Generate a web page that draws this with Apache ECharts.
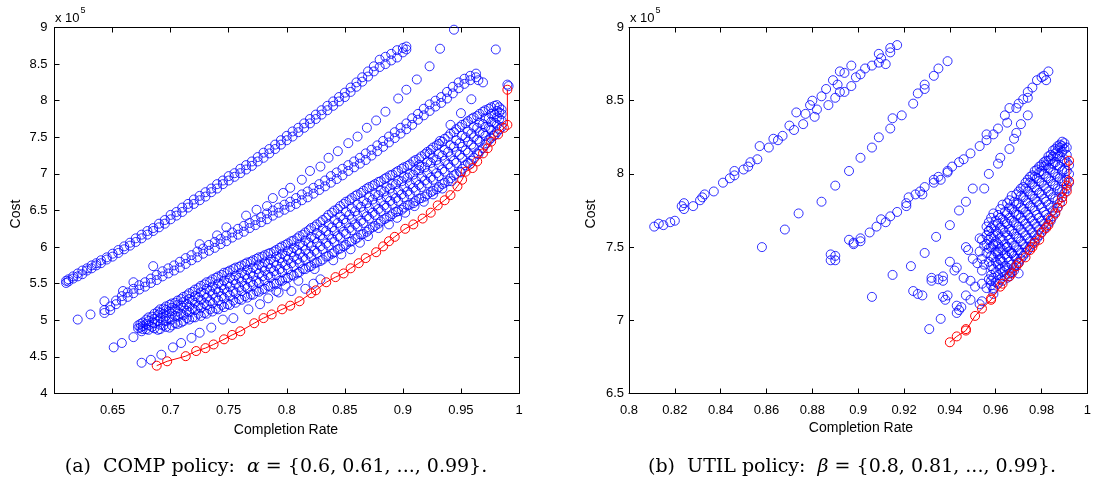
<!DOCTYPE html>
<html><head><meta charset="utf-8">
<script src="https://cdn.jsdelivr.net/npm/echarts/dist/echarts.min.js"></script>
<style>html,body{margin:0;padding:0;background:#fff}#c{width:1094px;height:478px}</style>
</head><body><div id="c"></div>
<script>
// ---------- (a) COMP policy : Completion Rate vs Cost (x 10^5) ----------
const compBand1 = [
[0.610,5.51,5.54],[0.612,5.53,5.56],[0.616,5.57,5.60],[0.620,5.60,5.64],[0.624,5.63,5.68],[0.628,5.68,5.71],
[0.632,5.71,5.75],[0.636,5.75,5.78],[0.640,5.78,5.82],[0.645,5.83,5.86],[0.650,5.87,5.91],[0.655,5.92,5.96],
[0.660,5.97,6.01],[0.665,6.02,6.06],[0.670,6.07,6.12],[0.675,6.12,6.17],[0.680,6.17,6.22],[0.685,6.22,6.26],
[0.690,6.27,6.32],[0.695,6.32,6.37],[0.700,6.38,6.44],[0.705,6.43,6.48],[0.710,6.48,6.54],[0.715,6.54,6.59],
[0.720,6.59,6.65],[0.725,6.64,6.70],[0.730,6.69,6.75],[0.735,6.75,6.80],[0.740,6.80,6.86],[0.745,6.86,6.91],
[0.750,6.91,6.97],[0.755,6.96,7.01],[0.760,7.01,7.07],[0.765,7.06,7.12],[0.770,7.11,7.17],[0.775,7.17,7.23],
[0.780,7.22,7.29],[0.785,7.28,7.34],[0.790,7.34,7.40],[0.795,7.40,7.46],[0.800,7.46,7.52],[0.805,7.51,7.58],
[0.810,7.57,7.63],[0.815,7.63,7.69],[0.820,7.69,7.75],[0.825,7.75,7.81],[0.830,7.81,7.87],[0.835,7.87,7.93],
[0.840,7.93,7.99],[0.845,7.99,8.05],[0.850,8.05,8.11],[0.855,8.12,8.18],[0.860,8.19,8.25],[0.865,8.26,8.32],
[0.870,8.33,8.40],[0.875,8.40,8.47],[0.880,8.46,8.56],[0.885,8.50,8.60],[0.890,8.55,8.64],[0.895,8.59,8.69],
[0.900,8.66,8.72],[0.903,8.70,8.74]
];
const compBand2 = [
[0.643,5.10,5.14],[0.648,5.14,5.19],[0.653,5.22,5.27],[0.658,5.27,5.33],[0.663,5.32,5.38],[0.668,5.37,5.43],
[0.673,5.42,5.48],[0.678,5.46,5.52],[0.683,5.51,5.57],[0.688,5.55,5.62],[0.693,5.60,5.67],[0.698,5.64,5.71],
[0.703,5.68,5.75],[0.708,5.72,5.80],[0.713,5.77,5.85],[0.718,5.82,5.89],[0.723,5.86,5.94],[0.728,5.91,5.98],
[0.733,5.95,6.03],[0.738,5.99,6.07],[0.743,6.04,6.11],[0.748,6.08,6.16],[0.753,6.13,6.20],[0.758,6.17,6.25],
[0.763,6.21,6.29],[0.768,6.26,6.33],[0.773,6.30,6.37],[0.778,6.34,6.41],[0.783,6.38,6.46],[0.788,6.43,6.50],
[0.793,6.47,6.54],[0.798,6.51,6.58],[0.803,6.55,6.62],[0.808,6.59,6.67],[0.813,6.64,6.72],[0.818,6.68,6.76],
[0.823,6.73,6.81],[0.828,6.78,6.86],[0.833,6.83,6.91],[0.838,6.88,6.97],[0.843,6.93,7.02],[0.848,6.98,7.07],
[0.853,7.04,7.12],[0.858,7.09,7.17],[0.863,7.14,7.22],[0.868,7.19,7.28],[0.873,7.25,7.33],[0.878,7.31,7.39],
[0.883,7.37,7.45],[0.888,7.43,7.51],[0.893,7.49,7.57],[0.898,7.55,7.63],[0.903,7.61,7.69],[0.908,7.67,7.76],
[0.913,7.74,7.82],[0.918,7.80,7.89],[0.923,7.86,7.95],[0.928,7.92,8.00],[0.933,7.97,8.05],[0.938,8.03,8.12],
[0.943,8.10,8.19],[0.948,8.17,8.25],[0.953,8.23,8.30],[0.958,8.28,8.34],[0.963,8.32,8.37]
];
const compSparseUpper = [
[0.620,5.01],[0.631,5.08],[0.643,5.26],[0.659,5.40],[0.668,5.52],[0.685,5.74],[0.725,6.04],[0.740,6.16],
[0.748,6.27],[0.765,6.43],[0.774,6.51],[0.783,6.56],[0.788,6.67],[0.797,6.74],[0.803,6.81],[0.813,6.92],
[0.820,7.04],[0.829,7.10],[0.836,7.22],[0.844,7.31],[0.853,7.42],[0.861,7.51],[0.869,7.63],[0.877,7.73],
[0.885,7.85],[0.896,8.03],[0.903,8.15],[0.912,8.29],[0.923,8.47],[0.932,8.71],[0.944,8.97],[0.980,8.70]
];
const compSparseMid = [
[0.914,7.12],[0.923,7.28],[0.932,7.45],[0.941,7.67],[0.950,7.83],[0.959,8.02],[0.965,8.28],[0.969,8.25],
[0.990,8.22],[0.991,8.20]
];
const compBand3 = [
[0.672,4.89,4.93],[0.676,4.88,4.92,4.97],[0.681,4.87,4.93,4.99,5.04],[0.686,4.89,4.96,5.02,5.09],
[0.691,4.88,4.94,5.03,5.10,5.15],[0.696,4.91,4.99,5.06,5.14,5.19],[0.701,4.93,5.01,5.09,5.17,5.23],
[0.706,4.95,5.05,5.12,5.21,5.27],[0.711,4.99,5.07,5.17,5.25,5.32],[0.716,5.01,5.11,5.19,5.29,5.37],
[0.721,5.04,5.14,5.24,5.33,5.42],[0.726,5.06,5.17,5.28,5.38,5.47],[0.731,5.09,5.21,5.31,5.43,5.52],
[0.736,5.12,5.23,5.36,5.46,5.56],[0.741,5.15,5.27,5.39,5.50,5.60],[0.746,5.18,5.30,5.43,5.54,5.65],
[0.751,5.21,5.34,5.46,5.58,5.68],[0.756,5.24,5.37,5.50,5.61,5.72],[0.761,5.28,5.40,5.53,5.65,5.75],
[0.766,5.31,5.44,5.57,5.69,5.79],[0.771,5.35,5.48,5.60,5.72,5.82],[0.776,5.39,5.51,5.64,5.76,5.86],
[0.781,5.43,5.55,5.68,5.79,5.89],[0.786,5.46,5.59,5.71,5.83,5.92],[0.791,5.50,5.62,5.75,5.87,5.96],
[0.796,5.54,5.66,5.79,5.91,6.01],[0.801,5.58,5.70,5.83,5.95,6.05],[0.806,5.61,5.74,5.87,5.99,6.09],
[0.811,5.66,5.78,5.91,6.04,6.15],[0.816,5.70,5.83,5.96,6.09,6.20],[0.821,5.74,5.87,6.01,6.14,6.26],
[0.826,5.79,5.92,6.06,6.19,6.31],[0.831,5.83,5.97,6.11,6.25,6.37],[0.836,5.88,6.02,6.17,6.31,6.44],
[0.841,5.93,6.07,6.22,6.37,6.50],[0.846,5.98,6.13,6.28,6.42,6.56],[0.851,6.03,6.18,6.33,6.48,6.62],
[0.856,6.08,6.23,6.38,6.53,6.67],[0.861,6.13,6.28,6.43,6.58,6.72],[0.866,6.18,6.33,6.48,6.63,6.77],
[0.871,6.24,6.39,6.53,6.68,6.82],[0.876,6.29,6.44,6.58,6.72,6.86],[0.881,6.35,6.49,6.63,6.77,6.90],
[0.886,6.40,6.54,6.68,6.82,6.95],[0.891,6.45,6.59,6.73,6.86,6.99],[0.896,6.49,6.63,6.77,6.91,7.04],
[0.901,6.54,6.68,6.82,6.96,7.09],[0.906,6.58,6.72,6.86,7.00,7.13],[0.911,6.63,6.77,6.91,7.05,7.19],
[0.916,6.67,6.82,6.96,7.10,7.24],[0.921,6.72,6.87,7.01,7.16,7.30],[0.926,6.77,6.92,7.07,7.22,7.36],
[0.931,6.82,6.97,7.12,7.27,7.41],[0.936,6.88,7.03,7.18,7.33,7.48],[0.941,6.94,7.09,7.24,7.39,7.55],
[0.946,7.00,7.15,7.30,7.46,7.61],[0.951,7.07,7.22,7.37,7.52,7.67],[0.956,7.15,7.29,7.44,7.58,7.72],
[0.961,7.22,7.36,7.50,7.64,7.77],[0.966,7.31,7.44,7.57,7.70,7.82],[0.971,7.40,7.52,7.64,7.76,7.87],
[0.976,7.49,7.60,7.71,7.82,7.91],[0.981,7.57,7.67,7.77,7.86,7.94],[0.985,7.64,7.73,7.82,7.88]
];
const compBand3b = [
[0.674,4.90,4.95],[0.679,4.88,4.95,5.01],[0.684,4.91,4.97,5.05],[0.689,4.87,4.99,5.07,5.12],
[0.694,4.93,5.00,5.09,5.16],[0.699,4.90,5.03,5.12,5.21],[0.704,4.96,5.06,5.15,5.24],[0.709,4.97,5.09,5.20,5.29],
[0.714,5.03,5.13,5.22,5.34],[0.719,5.04,5.16,5.27,5.39],[0.724,5.09,5.20,5.31,5.44],[0.729,5.10,5.23,5.36,5.49],
[0.734,5.15,5.26,5.40,5.53],[0.739,5.16,5.31,5.43,5.58],[0.744,5.21,5.33,5.48,5.62],[0.749,5.22,5.38,5.51,5.66],
[0.754,5.27,5.40,5.55,5.70],[0.759,5.29,5.45,5.58,5.73],[0.764,5.33,5.47,5.62,5.77],[0.769,5.35,5.52,5.65,5.80],
[0.774,5.40,5.54,5.70,5.84],[0.779,5.42,5.60,5.73,5.87],[0.784,5.47,5.62,5.77,5.91],[0.789,5.50,5.67,5.80,5.94],
[0.794,5.54,5.70,5.85,5.99],[0.799,5.57,5.75,5.88,6.03],[0.804,5.62,5.78,5.93,6.08],[0.809,5.64,5.83,5.96,6.12],
[0.814,5.70,5.86,6.02,6.17],[0.819,5.73,5.91,6.06,6.23],[0.824,5.78,5.95,6.12,6.28],[0.829,5.81,6.01,6.16,6.34],
[0.834,5.87,6.05,6.22,6.40],[0.839,5.91,6.11,6.27,6.47],[0.844,5.97,6.15,6.33,6.52],[0.849,6.01,6.21,6.38,6.59],
[0.854,6.07,6.26,6.44,6.64],[0.859,6.11,6.31,6.49,6.70],[0.864,6.17,6.36,6.55,6.74],[0.869,6.21,6.42,6.60,6.80],
[0.874,6.27,6.47,6.65,6.84],[0.879,6.32,6.52,6.71,6.89],[0.884,6.38,6.57,6.76,6.93],[0.889,6.42,6.63,6.80,6.98],
[0.894,6.48,6.67,6.86,7.02],[0.899,6.51,6.72,6.90,7.07],[0.904,6.57,6.76,6.95,7.11],[0.909,6.60,6.81,6.99,7.17],
[0.914,6.66,6.85,7.05,7.21],[0.919,6.69,6.91,7.09,7.27],[0.924,6.75,6.95,7.15,7.33],[0.929,6.79,7.01,7.19,7.39],
[0.934,6.86,7.06,7.25,7.44],[0.939,6.90,7.13,7.30,7.51],[0.944,6.98,7.18,7.37,7.57],[0.949,7.03,7.26,7.42,7.64],
[0.954,7.12,7.32,7.50,7.69],[0.959,7.18,7.40,7.55,7.75],[0.964,7.28,7.47,7.63,7.79],[0.969,7.35,7.56,7.68,7.85],
[0.974,7.46,7.63,7.76,7.89],[0.979,7.53,7.70,7.81,7.93],[0.983,7.61,7.75,7.84,7.91]
];
const compSparseLower = [
[0.651,4.63],[0.658,4.69],[0.668,4.77],[0.675,4.85],[0.675,4.42],[0.683,4.46],[0.692,4.53],[0.702,4.63],
[0.709,4.69],[0.718,4.76],[0.725,4.83],[0.735,4.90],[0.745,5.01],[0.754,5.03],[0.767,5.15],[0.777,5.22],
[0.784,5.30],[0.791,5.40],[0.793,5.38],[0.799,5.47],[0.804,5.40],[0.810,5.54],[0.816,5.43],[0.823,5.50],
[0.824,5.70],[0.829,5.56],[0.840,5.82],[0.847,5.90],[0.855,5.97],[0.863,6.06],[0.870,6.15],[0.879,6.26],
[0.888,6.31],[0.895,6.40],[0.902,6.47],[0.910,6.56],[0.918,6.62],[0.926,6.72],[0.934,6.80],[0.942,6.90],
[0.950,7.02],[0.958,7.14],[0.965,7.27],[0.972,7.42],[0.978,7.52]
];
const compFront = [
[0.688,4.38],[0.697,4.44],[0.713,4.51],[0.722,4.58],[0.730,4.62],[0.737,4.67],[0.746,4.74],[0.753,4.80],
[0.760,4.85],[0.772,4.96],[0.780,5.03],[0.787,5.08],[0.796,5.15],[0.803,5.20],[0.811,5.26],[0.821,5.37],
[0.825,5.41],[0.834,5.52],[0.842,5.59],[0.849,5.64],[0.855,5.71],[0.862,5.78],[0.868,5.85],[0.877,5.93],
[0.883,6.01],[0.888,6.08],[0.893,6.14],[0.902,6.25],[0.909,6.31],[0.917,6.39],[0.924,6.47],[0.930,6.57],
[0.936,6.64],[0.941,6.71],[0.947,6.83],[0.951,6.92],[0.954,7.03],[0.960,7.08],[0.964,7.17],[0.969,7.28],
[0.973,7.35],[0.976,7.44],[0.982,7.54],[0.987,7.63],[0.990,7.67],[0.990,8.15]
];

// ---------- (b) UTIL policy ----------
const utilBandA = [
[0.811,7.64],[0.813,7.66],[0.815,7.65],[0.818,7.67],[0.820,7.68],[0.823,7.78],[0.824,7.76],[0.824,7.80],
[0.828,7.78],[0.831,7.82],[0.832,7.84],[0.833,7.86],[0.837,7.88],[0.841,7.94],[0.844,7.97],[0.846,8.02],
[0.846,7.99],[0.850,8.03],[0.852,8.05],[0.853,8.08],[0.856,8.10],[0.857,8.19],[0.861,8.18],[0.863,8.24],
[0.865,8.23],[0.867,8.26],[0.870,8.33],[0.872,8.30],[0.873,8.42],[0.876,8.34],[0.877,8.41],[0.879,8.47],
[0.880,8.50],[0.881,8.39],[0.882,8.44],[0.884,8.53],[0.886,8.58],[0.887,8.47],[0.889,8.64],[0.890,8.52],
[0.891,8.61],[0.892,8.70],[0.894,8.69],[0.892,8.56],[0.894,8.56],[0.897,8.74],[0.897,8.60],[0.899,8.66],
[0.901,8.68],[0.903,8.72],[0.906,8.74],[0.909,8.76],[0.909,8.82],[0.910,8.79],[0.912,8.75],[0.914,8.83],
[0.914,8.86],[0.917,8.88]
];
const utilBandB = [
[0.858,7.50],[0.868,7.62],[0.874,7.73],[0.884,7.81],[0.890,7.92],[0.896,8.02],[0.901,8.11],[0.906,8.18],
[0.909,8.25],[0.914,8.31],[0.915,8.38],[0.919,8.40],[0.924,8.48],[0.926,8.55],[0.929,8.58],[0.929,8.61],
[0.933,8.67],[0.935,8.72],[0.939,8.77]
];
const utilBandC = [
[0.888,7.45],[0.888,7.41],[0.890,7.44],[0.890,7.41],[0.896,7.55],[0.898,7.52],[0.898,7.53],[0.901,7.56],
[0.901,7.54],[0.905,7.60],[0.908,7.64],[0.910,7.69],[0.912,7.67],[0.914,7.71],[0.917,7.74],[0.921,7.80],
[0.921,7.78],[0.922,7.84],[0.925,7.86],[0.927,7.88],[0.928,7.86],[0.929,7.91],[0.933,7.96],[0.933,7.94],
[0.935,7.98],[0.936,7.96],[0.939,8.01],[0.939,8.02],[0.941,8.05],[0.944,8.08],[0.946,8.10],[0.949,8.14],
[0.953,8.19],[0.956,8.23],[0.956,8.27],[0.959,8.27],[0.961,8.31],[0.964,8.40],[0.965,8.35],[0.966,8.45],
[0.969,8.45],[0.970,8.48],[0.972,8.51],[0.974,8.52],[0.974,8.56],[0.976,8.59],[0.978,8.64],[0.980,8.66],
[0.981,8.67],[0.982,8.64],[0.983,8.70]
];
const utilBandD = [
[0.906,7.16],[0.915,7.31],[0.923,7.37],[0.929,7.46],[0.934,7.57],[0.940,7.65],[0.944,7.75],[0.947,7.81],
[0.950,7.90],[0.955,7.90],[0.957,8.00],[0.961,8.07],[0.962,8.11],[0.966,8.17],[0.968,8.24],[0.969,8.28],
[0.971,8.34],[0.974,8.40]
];
const utilFan = [
[0.931,6.94],[0.936,7.01],[0.924,7.20],[0.926,7.18],[0.928,7.17],[0.932,7.29],[0.932,7.27],[0.935,7.28],
[0.937,7.30],[0.937,7.27],[0.940,7.40],[0.943,7.36],[0.942,7.34],[0.939,7.17],[0.937,7.16],[0.938,7.14],
[0.943,7.10],[0.944,7.07],[0.943,7.05],[0.945,7.09],[0.947,7.17],[0.946,7.29],[0.949,7.27],[0.951,7.23],
[0.949,7.14],[0.953,7.11],[0.954,7.13],[0.947,7.50],[0.948,7.48],[0.950,7.42],[0.952,7.39],[0.954,7.34],
[0.954,7.25],[0.956,7.22],[0.958,7.27],[0.959,7.21],[0.959,7.18],[0.957,7.61],[0.953,7.56],[0.954,7.55],
[0.955,7.51],[0.953,7.47],[0.954,7.42],[0.955,7.38],[0.959,7.52],[0.961,7.47],[0.962,7.41],[0.964,7.34],
[0.966,7.30],[0.968,7.34],[0.970,7.32],[0.965,7.50],[0.967,7.46],[0.970,7.39]
];
const utilDense = [
[0.956,7.46,7.52,7.58,7.64],
[0.958,7.24,7.31,7.37,7.44,7.50,7.57,7.63,7.70],
[0.960,7.26,7.33,7.40,7.47,7.54,7.61,7.68],
[0.962,7.28,7.35,7.42,7.49,7.56,7.63,7.70,7.76],
[0.964,7.30,7.37,7.45,7.52,7.60,7.67,7.74],
[0.966,7.32,7.40,7.47,7.55,7.62,7.70,7.77,7.82],
[0.968,7.36,7.44,7.51,7.59,7.67,7.74,7.81],
[0.970,7.40,7.48,7.56,7.64,7.72,7.80,7.88],
[0.972,7.44,7.52,7.60,7.68,7.76,7.84,7.91],
[0.974,7.48,7.56,7.64,7.72,7.80,7.88,7.96],
[0.976,7.52,7.60,7.68,7.77,7.85,7.93,7.99],
[0.978,7.56,7.64,7.72,7.81,7.89,7.97,8.03],
[0.980,7.60,7.68,7.77,7.86,7.94,8.02,8.06],
[0.982,7.64,7.72,7.81,7.90,7.98,8.06,8.09],
[0.984,7.68,7.77,7.86,7.95,8.03,8.10,8.13],
[0.986,7.74,7.83,7.92,8.00,8.08,8.14,8.17],
[0.988,7.80,7.89,7.97,8.05,8.12,8.18,8.20],
[0.990,7.87,7.95,8.03,8.10,8.17,8.21],
[0.992,7.94,8.00,8.06]
];
const utilDenseB = [
[0.957,7.28,7.40,7.49,7.55,7.61,7.67],
[0.959,7.22,7.29,7.35,7.43,7.51,7.58,7.65,7.73],
[0.961,7.25,7.31,7.38,7.45,7.52,7.59,7.66,7.72],
[0.963,7.27,7.33,7.40,7.48,7.55,7.62,7.69,7.79],
[0.965,7.29,7.36,7.43,7.50,7.58,7.66,7.73,7.80],
[0.967,7.33,7.38,7.46,7.53,7.61,7.68,7.76,7.85],
[0.969,7.38,7.42,7.50,7.57,7.65,7.72,7.79,7.86],
[0.971,7.42,7.46,7.54,7.62,7.70,7.77,7.85,7.90],
[0.973,7.46,7.50,7.58,7.66,7.74,7.82,7.90,7.94],
[0.975,7.50,7.54,7.62,7.70,7.78,7.86,7.94,7.98],
[0.977,7.54,7.58,7.66,7.75,7.83,7.91,7.98,8.02],
[0.979,7.58,7.62,7.70,7.79,7.87,7.95,8.01,8.05],
[0.981,7.62,7.66,7.74,7.83,7.92,8.00,8.05,8.08],
[0.983,7.66,7.70,7.79,7.88,7.97,8.04,8.09,8.12],
[0.985,7.71,7.75,7.84,7.93,8.01,8.07,8.12,8.16],
[0.987,7.77,7.82,7.90,7.98,8.06,8.12,8.16,8.19],
[0.989,7.84,7.88,7.95,8.02,8.09,8.15,8.19,8.22],
[0.991,7.90,7.96,8.02,8.08,8.13,8.18]
];
const utilFront = [
[0.940,6.85],[0.943,6.89],[0.947,6.93],[0.947,6.94],[0.951,7.03],[0.954,7.08],[0.958,7.14],[0.958,7.15],
[0.962,7.23],[0.963,7.25],[0.966,7.30],[0.967,7.32],[0.969,7.37],[0.970,7.39],[0.973,7.43],[0.975,7.48],
[0.976,7.50],[0.977,7.53],[0.979,7.55],[0.980,7.60],[0.982,7.63],[0.983,7.65],[0.984,7.69],[0.986,7.73],
[0.987,7.77],[0.989,7.81],[0.989,7.84],[0.991,7.88],[0.991,7.92],[0.992,7.95],[0.992,8.09]
];

// axis tick settings
const compX = {min:0.6, max:1, step:0.05};
const compY = {min:4, max:9, step:0.5};
const utilX = {min:0.8, max:1, step:0.02};
const utilY = {min:6.5, max:9, step:0.5};

function expand(cols){ const out=[]; cols.forEach(r=>{ for(let i=1;i<r.length;i++) out.push([r[0],r[i]]); }); return out; }

const SANS = '"Liberation Sans", Arial, Helvetica, sans-serif';
const SERIF = '"DejaVu Serif", serif';
const fmt = v => String(+(+v).toFixed(2));

function xAxes(grid, s){
  const base = {gridIndex:grid, type:'value', min:s.min, max:s.max, interval:s.step,
    axisLine:{onZero:false, lineStyle:{color:'#000', width:1}},
    axisTick:{inside:true, length:5, lineStyle:{color:'#000'}},
    splitLine:{show:false}};
  return [
    Object.assign({}, base, {position:'bottom',
      axisLabel:{show:true, showMinLabel: grid===1, formatter:fmt, color:'#000', fontSize:13, fontFamily:SANS, margin:10}}),
    Object.assign({}, base, {position:'top', axisLabel:{show:false}})
  ];
}
function yAxes(grid, s, margin){
  const base = {gridIndex:grid, type:'value', min:s.min, max:s.max, interval:s.step,
    axisLine:{onZero:false, lineStyle:{color:'#000', width:1}},
    axisTick:{inside:true, length:5, lineStyle:{color:'#000'}},
    splitLine:{show:false}};
  return [
    Object.assign({}, base, {position:'left',
      axisLabel:{show:true, formatter:fmt, color:'#000', fontSize:13, fontFamily:SANS, margin:margin}}),
    Object.assign({}, base, {position:'right', axisLabel:{show:false}})
  ];
}

const blueStyle = {color:'rgba(0,0,0,0)', borderColor:'#0000ff', borderWidth:1};
const redStyle = {color:'rgba(0,0,0,0)', borderColor:'#ff0000', borderWidth:1};
function blue(data, xi, yi){
  return {type:'scatter', xAxisIndex:xi, yAxisIndex:yi, data:data, symbol:'circle', symbolSize:9,
    itemStyle:blueStyle, silent:true, z:2, large:false};
}
function red(data, xi, yi){
  return {type:'line', xAxisIndex:xi, yAxisIndex:yi, data:data, symbol:'circle', symbolSize:9,
    showSymbol:true, showAllSymbol:true, itemStyle:redStyle, lineStyle:{color:'#ff0000', width:1},
    silent:true, z:3};
}

const chart = echarts.init(document.getElementById('c'), null, {renderer:'canvas'});
chart.setOption({
  animation:false,
  backgroundColor:'#fff',
  grid:[
    {left:54.5, top:27.5, width:464.5, height:366},
    {left:629, top:27.5, width:465.5, height:366}
  ],
  xAxis:[...xAxes(0, compX), ...xAxes(1, utilX)],
  yAxis:[...yAxes(0, compY, 7), ...yAxes(1, utilY, 5)],
  series:[
    blue(expand(compBand1),0,0), blue(expand(compBand2),0,0), blue(compSparseUpper,0,0),
    blue(compSparseMid,0,0), blue(expand(compBand3),0,0), blue(expand(compBand3b),0,0), blue(compSparseLower,0,0),
    red(compFront,0,0),
    blue(utilBandA,2,2), blue(utilBandB,2,2), blue(utilBandC,2,2), blue(utilBandD,2,2),
    blue(utilFan,2,2), blue(expand(utilDense),2,2), blue(expand(utilDenseB),2,2),
    red(utilFront,2,2)
  ],
  graphic:[
    {type:'text', x:55, y:18, style:{text:'x 10', fontSize:13, fontFamily:SANS, fill:'#000', verticalAlign:'middle'}},
    {type:'text', x:80.5, y:11, style:{text:'5', fontSize:9, fontFamily:SANS, fill:'#000', verticalAlign:'middle'}},
    {type:'text', x:630, y:18, style:{text:'x 10', fontSize:13, fontFamily:SANS, fill:'#000', verticalAlign:'middle'}},
    {type:'text', x:655.5, y:11, style:{text:'5', fontSize:9, fontFamily:SANS, fill:'#000', verticalAlign:'middle'}},
    {type:'text', x:16, y:214, rotation:Math.PI/2, style:{text:'Cost', fontSize:14, fontFamily:SANS, fill:'#000', align:'center', verticalAlign:'middle'}},
    {type:'text', x:591, y:214, rotation:Math.PI/2, style:{text:'Cost', fontSize:14, fontFamily:SANS, fill:'#000', align:'center', verticalAlign:'middle'}},
    {type:'text', x:286, y:430, style:{text:'Completion Rate', fontSize:14, fontFamily:SANS, fill:'#000', align:'center', verticalAlign:'middle'}},
    {type:'text', x:861, y:428, style:{text:'Completion Rate', fontSize:14, fontFamily:SANS, fill:'#000', align:'center', verticalAlign:'middle'}},
    {type:'text', x:276, y:467, style:{text:'(a)  COMP policy:  {i|α} = {0.6, 0.61, ..., 0.99}.', fontSize:19, fontFamily:SERIF, fill:'#000', align:'center', verticalAlign:'middle',
      rich:{i:{fontStyle:'italic', fontSize:19, fontFamily:SERIF, fill:'#000'}}}},
    {type:'text', x:852, y:467, style:{text:'(b)  UTIL policy:  {i|β} = {0.8, 0.81, ..., 0.99}.', fontSize:19, fontFamily:SERIF, fill:'#000', align:'center', verticalAlign:'middle',
      rich:{i:{fontStyle:'italic', fontSize:19, fontFamily:SERIF, fill:'#000'}}}}
  ]
});
</script></body></html>
